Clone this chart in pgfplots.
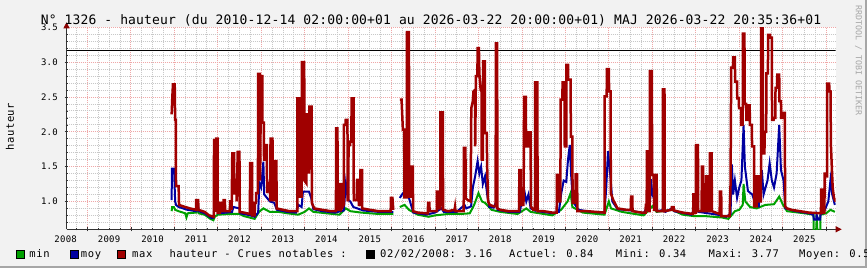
\documentclass[border=0pt]{standalone}
\usepackage{pgfplots}
\pgfplotsset{compat=1.18}
\usepackage{pgfplotstable}
\usepackage{fontspec}
\usetikzlibrary{arrows.meta}
\setmainfont{DejaVu Sans Mono}
\newfontfamily\titlefont[LetterSpace=1.2]{DejaVu Sans Mono}
\newfontfamily\legfont[LetterSpace=5.8]{DejaVu Sans Mono}
\newfontfamily\tickfont[LetterSpace=3]{DejaVu Sans Mono}
\newcommand\legf{\legfont\fontsize{10.5bp}{12bp}\selectfont}
\newcommand\tickf{\tickfont\fontsize{9bp}{10bp}\selectfont}
\definecolor{rrdback}{HTML}{F2F2F2}
\definecolor{rrdred}{HTML}{A00000}
\definecolor{rrdblue}{HTML}{0000A0}
\definecolor{rrdgreen}{HTML}{00A000}
\definecolor{mgrid}{HTML}{EFA8A8}
\definecolor{sgrid}{HTML}{C8C8C8}
\definecolor{rrdarrow}{HTML}{8A0000}

\pgfplotstableread{
x y
2010.94 2.25
2010.955 2.50
2010.97 2.68
2011.01 2.68
2011.02 2.17
2011.035 2.17
2011.04 1.22
2011.10 1.22
2011.11 0.95
2011.20 0.93
2011.36 0.90
2011.50 0.88
2011.505 1.02
2011.55 1.02
2011.555 0.88
2011.70 0.85
2011.80 0.80
2011.91 0.78
2011.915 1.88
2011.945 1.88
2011.95 0.85
2011.965 1.90
2011.995 1.90
2012.00 0.84
2012.05 0.84
2012.055 0.98
2012.08 0.98
2012.085 0.86
2012.13 0.86
2012.135 1.02
2012.165 1.02
2012.17 0.86
2012.28 0.86
2012.285 1.0
2012.31 1.0
2012.32 0.88
2012.335 1.69
2012.375 1.69
2012.38 1.1
2012.405 1.31
2012.43 1.31
2012.435 1.0
2012.46 1.71
2012.50 1.71
2012.505 0.85
2012.60 0.84
2012.74 0.82
2012.745 1.55
2012.79 1.55
2012.795 0.80
2012.85 0.80
2012.855 0.98
2012.88 0.98
2012.885 1.12
2012.925 1.12
2012.93 2.83
2012.97 2.83
2012.975 1.3
2012.995 2.80
2013.025 2.80
2013.03 2.13
2013.06 2.13
2013.065 1.6
2013.09 1.6
2013.095 1.81
2013.13 1.81
2013.135 1.12
2013.175 1.26
2013.20 1.26
2013.205 1.0
2013.215 1.9
2013.26 1.9
2013.265 1.02
2013.30 1.02
2013.305 1.58
2013.35 1.58
2013.355 0.90
2013.50 0.88
2013.65 0.86
2013.83 0.86
2013.835 2.48
2013.87 2.48
2013.875 1.07
2013.93 1.07
2013.935 3.0
2013.99 3.0
2013.995 1.3
2014.04 1.26
2014.045 2.25
2014.09 2.25
2014.095 1.4
2014.11 2.36
2014.16 2.36
2014.165 0.98
2014.22 0.90
2014.40 0.88
2014.60 0.86
2014.72 0.86
2014.725 2.05
2014.755 2.05
2014.76 0.88
2014.815 0.88
2014.82 1.25
2014.85 1.25
2014.855 0.90
2014.90 0.95
2014.905 2.10
2014.94 2.10
2014.945 2.17
2014.985 2.17
2014.99 1.02
2015.005 1.02
2015.01 1.81
2015.045 1.81
2015.05 1.86
2015.075 1.86
2015.08 2.48
2015.125 2.48
2015.13 1.02
2015.20 1.02
2015.205 1.31
2015.245 1.31
2015.25 0.95
2015.28 0.95
2015.285 1.45
2015.32 1.45
2015.325 0.90
2015.50 0.88
2015.70 0.86
2015.98 0.86
2015.985 1.05
2016.02 1.05
2016.04 0.88
nan nan
2016.19 2.46
2016.23 2.46
2016.26 2.03
2016.29 2.03
2016.295 1.06
2016.35 1.06
2016.355 3.43
2016.40 3.43
2016.405 1.07
2016.44 1.07
2016.445 1.5
2016.49 1.5
2016.495 0.86
2016.60 0.84
2016.80 0.83
2016.835 0.83
2016.84 0.98
2016.87 0.98
2016.875 0.86
2017.04 0.86
2017.045 1.14
2017.08 1.14
2017.085 0.90
2017.12 0.90
2017.125 2.28
2017.18 2.28
2017.185 0.88
2017.30 0.86
2017.45 0.88
2017.46 0.92
2017.47 0.86
2017.66 0.86
2017.665 1.77
2017.70 1.77
2017.705 1.05
2017.75 1.02
2017.82 1.0
2017.825 1.45
2017.835 2.34
2017.87 2.44
2017.885 2.58
2017.92 2.6
2017.925 1.79
2017.94 2.8
2017.975 2.8
2017.98 3.2
2018.01 3.2
2018.02 2.84
2018.05 2.6
2018.07 2.58
2018.075 1.6
2018.10 1.6
2018.105 3.01
2018.145 3.01
2018.15 1.98
2018.19 1.98
2018.20 1.5
2018.22 1.0
2018.26 0.95
2018.35 0.93
2018.395 0.93
2018.40 3.27
2018.43 3.27
2018.435 0.90
2018.50 0.88
2018.70 0.86
2018.935 0.86
2018.94 1.45
2018.97 1.45
2018.975 0.95
2019.035 0.95
2019.04 1.29
2019.05 2.5
2019.09 2.5
2019.095 1.79
2019.14 1.79
2019.145 1.99
2019.20 1.99
2019.205 0.93
2019.26 0.88
2019.30 0.88
2019.305 2.71
2019.355 2.71
2019.36 0.86
2019.50 0.86
2019.70 0.84
2019.80 0.84
2019.805 1.38
2019.85 1.38
2019.855 1.0
2019.885 1.0
2019.89 2.46
2019.93 2.46
2019.935 2.71
2019.98 2.71
2019.985 1.79
2020.02 1.79
2020.025 2.96
2020.06 2.96
2020.065 2.75
2020.12 2.75
2020.125 1.93
2020.16 1.93
2020.165 0.98
2020.23 0.98
2020.235 1.39
2020.27 1.39
2020.275 0.86
2020.50 0.86
2020.90 0.84
2020.905 2.51
2020.95 2.51
2020.955 2.9
2021.00 2.9
2021.005 2.58
2021.04 2.58
2021.045 1.12
2021.10 1.02
2021.20 0.90
2021.40 0.88
2021.505 0.88
2021.51 1.07
2021.54 1.07
2021.545 0.86
2021.76 0.84
2021.845 0.84
2021.85 0.95
2021.865 0.95
2021.87 0.86
2021.875 1.72
2021.91 1.72
2021.915 0.86
2021.94 0.86
2021.945 2.87
2021.99 2.87
2021.995 1.38
2022.03 1.38
2022.045 0.86
2022.06 1.38
2022.10 1.38
2022.105 0.86
2022.24 0.86
2022.245 2.61
2022.28 2.61
2022.285 0.86
2022.44 0.88
2022.45 0.92
2022.49 0.92
2022.50 0.87
2022.70 0.84
2022.94 0.82
2022.945 1.10
2022.975 1.10
2022.98 0.84
2023.00 0.84
2023.005 1.81
2023.05 1.81
2023.055 0.86
2023.135 0.86
2023.14 1.5
2023.17 1.5
2023.175 0.86
2023.235 0.86
2023.24 1.36
2023.27 1.36
2023.275 0.86
2023.32 0.86
2023.325 1.69
2023.365 1.69
2023.37 0.86
2023.55 0.82
2023.555 1.14
2023.585 1.14
2023.59 0.79
2023.78 0.79
2023.80 1.25
2023.815 2.92
2023.855 2.92
2023.86 3.07
2023.90 3.07
2023.905 2.72
2023.95 2.72
2023.955 2.48
2023.99 2.48
2023.995 2.34
2024.04 2.34
2024.045 2.10
2024.08 2.10
2024.085 3.41
2024.12 3.41
2024.125 2.4
2024.16 2.4
2024.165 2.17
2024.20 2.17
2024.205 2.38
2024.24 2.38
2024.245 2.10
2024.29 2.10
2024.295 1.79
2024.34 1.79
2024.345 0.93
2024.40 0.93
2024.405 1.36
2024.44 1.36
2024.445 1.0
2024.50 1.0
2024.505 3.5
2024.54 3.5
2024.545 1.69
2024.58 1.69
2024.585 2.0
2024.62 2.0
2024.625 2.84
2024.66 2.84
2024.665 3.39
2024.71 3.39
2024.715 3.35
2024.75 3.35
2024.755 2.17
2024.79 2.17
2024.795 2.2
2024.83 2.2
2024.835 2.63
2024.87 2.63
2024.875 2.82
2024.92 2.82
2024.925 2.44
2024.96 2.44
2024.965 2.2
2025.00 2.2
2025.005 2.27
2025.05 2.27
2025.055 0.93
2025.10 0.90
2025.20 0.88
2025.40 0.86
2025.60 0.84
2025.88 0.83
2025.885 1.17
2025.915 1.17
2025.92 0.84
2025.96 0.84
2025.965 1.40
2025.995 1.40
2026.0 1.36
2026.02 1.36
2026.025 2.69
2026.07 2.69
2026.075 2.58
2026.10 2.58
2026.11 1.8
2026.13 1.5
2026.15 1.2
2026.18 1.05
2026.22 1.0
}\redtab

\pgfplotstableread{
x y
2010.94 1.02
2010.945 1.47
2010.995 1.47
2011.02 1.0
2011.04 0.95
2011.10 0.92
2011.30 0.88
2011.50 0.86
2011.52 0.95
2011.55 0.93
2011.56 0.86
2011.70 0.83
2011.86 0.76
2011.91 0.77
2011.92 1.0
2011.99 1.02
2012.01 0.83
2012.20 0.84
2012.33 0.85
2012.36 0.92
2012.50 0.90
2012.52 0.83
2012.75 0.80
2012.85 0.78
2012.93 0.84
2012.96 1.26
2013.00 1.2
2013.05 1.57
2013.07 1.1
2013.20 1.0
2013.30 0.98
2013.36 0.88
2013.60 0.85
2013.80 0.84
2013.86 0.95
2013.93 0.92
2013.96 1.14
2014.10 1.14
2014.15 1.05
2014.20 0.89
2014.40 0.86
2014.70 0.84
2014.90 0.87
2014.95 1.26
2015.00 1.02
2015.05 1.0
2015.12 0.92
2015.35 0.87
2015.70 0.85
2016.04 0.85
nan nan
2016.19 1.05
2016.24 1.1
2016.36 1.19
2016.40 1.05
2016.50 0.84
2016.80 0.81
2017.00 0.84
2017.15 0.90
2017.20 0.85
2017.50 0.85
2017.68 0.95
2017.72 0.90
2017.83 0.93
2017.87 1.2
2017.92 1.35
2017.98 1.58
2018.02 1.40
2018.06 1.5
2018.10 1.25
2018.15 1.36
2018.20 1.1
2018.25 0.92
2018.35 0.91
2018.41 1.0
2018.44 0.88
2018.70 0.85
2018.95 0.85
2019.05 1.17
2019.10 1.0
2019.15 1.1
2019.20 0.90
2019.30 0.87
2019.33 0.95
2019.36 0.86
2019.70 0.83
2019.85 0.85
2019.90 1.1
2019.96 1.3
2020.02 1.28
2020.06 1.6
2020.10 1.81
2020.13 1.4
2020.17 1.0
2020.30 0.88
2020.60 0.85
2020.90 0.84
2020.94 1.2
2020.98 1.72
2021.03 1.4
2021.08 1.0
2021.20 0.89
2021.50 0.87
2021.80 0.83
2021.95 1.0
2021.97 1.32
2022.00 1.1
2022.07 1.0
2022.12 0.86
2022.26 0.88
2022.30 0.85
2022.45 0.90
2022.50 0.86
2022.90 0.81
2023.02 0.95
2023.06 0.85
2023.50 0.81
2023.70 0.78
2023.80 0.82
2023.83 1.53
2023.86 1.1
2023.90 1.3
2023.95 1.05
2024.00 1.2
2024.05 1.3
2024.10 2.1
2024.13 1.5
2024.20 1.15
2024.30 1.1
2024.38 0.95
2024.45 0.93
2024.52 1.45
2024.56 1.1
2024.65 1.3
2024.70 1.55
2024.75 1.3
2024.80 1.2
2024.86 1.4
2024.92 2.1
2024.96 1.45
2025.02 1.3
2025.06 0.90
2025.30 0.86
2025.60 0.83
2025.70 0.81
2025.72 0.74
2025.77 0.74
2025.78 0.81
2025.82 0.74
2025.86 0.74
2025.87 0.81
2025.95 0.85
2026.05 1.0
2026.10 1.31
2026.14 1.1
2026.20 0.95
}\bluetab

\pgfplotstableread{
x y
2010.94 0.86
2010.95 0.92
2010.99 0.92
2011.02 0.88
2011.10 0.86
2011.25 0.83
2011.28 0.77
2011.31 0.83
2011.50 0.84
2011.52 0.90
2011.56 0.83
2011.70 0.81
2011.83 0.75
2011.90 0.73
2011.93 0.78
2012.00 0.81
2012.30 0.82
2012.50 0.82
2012.60 0.79
2012.85 0.75
2012.95 0.85
2013.05 0.90
2013.20 0.85
2013.40 0.85
2013.60 0.83
2013.85 0.81
2014.00 0.85
2014.10 0.90
2014.20 0.85
2014.50 0.83
2014.80 0.81
2014.95 0.90
2015.05 0.86
2015.30 0.84
2015.70 0.82
2016.04 0.82
nan nan
2016.19 0.92
2016.30 0.95
2016.40 0.88
2016.60 0.81
2016.85 0.78
2017.00 0.80
2017.30 0.82
2017.60 0.82
2017.80 0.83
2017.90 0.95
2018.00 1.12
2018.08 1.0
2018.15 0.98
2018.30 0.88
2018.50 0.85
2018.90 0.82
2019.10 0.90
2019.20 0.85
2019.70 0.80
2019.90 0.88
2020.05 1.0
2020.12 1.12
2020.16 0.92
2020.40 0.84
2020.90 0.81
2021.00 1.0
2021.05 0.90
2021.30 0.85
2021.80 0.80
2022.00 0.93
2022.10 0.85
2022.45 0.88
2022.70 0.81
2022.95 0.79
2023.20 0.79
2023.60 0.77
2023.75 0.75
2023.82 0.80
2023.90 0.86
2024.00 0.88
2024.08 0.95
2024.10 1.25
2024.14 1.0
2024.25 0.92
2024.40 0.90
2024.60 0.95
2024.80 0.96
2024.92 1.07
2025.00 0.96
2025.10 0.86
2025.50 0.83
2025.71 0.81
2025.72 0.30
2025.77 0.30
2025.78 0.81
2025.82 0.30
2025.86 0.30
2025.87 0.81
2026.00 0.83
2026.10 0.88
2026.20 0.85
}\greentab

\begin{document}
\begin{tikzpicture}[x=1bp,y=1bp]
\path[use as bounding box] (0,0) rectangle (867,268);
\clip (0,0) rectangle (867,268);
\fill[rrdback] (0,0) rectangle (867,268);
\fill[gray!70] (865,0) rectangle (867,268);
\fill[gray!70] (0,0) rectangle (867,2);
\fill[white!90!gray] (0,2) rectangle (2,268);
\fill[white!90!gray] (0,266) rectangle (865,268);
\begin{axis}[
  at={(66.5bp,38.7bp)}, anchor=south west, scale only axis,
  width=769.2bp, height=202bp,
  xmin=2008.52, xmax=2026.22, ymin=0.6, ymax=3.5,
  unbounded coords=jump,
  axis lines=left,
  axis background/.style={fill=white},
  axis line style={draw=black!80, line width=0.8bp},
  x axis line style={-{Triangle[length=6bp,width=6bp,color=rrdarrow]}, shorten >=-6bp},
  y axis line style={-{Triangle[length=6bp,width=6bp,color=rrdarrow]}, shorten >=-5bp},
  xtick={2009,2010,2011,2012,2013,2014,2015,2016,2017,2018,2019,2020,2021,2022,2023,2024,2025,2026},
  xticklabels={2008,2009,2010,2011,2012,2013,2014,2015,2016,2017,2018,2019,2020,2021,2022,2023,2024,2025},
  minor xtick={2008.75,2009.25,2009.5,2009.75,2010.25,2010.5,2010.75,2011.25,2011.5,2011.75,2012.25,2012.5,2012.75,2013.25,2013.5,2013.75,2014.25,2014.5,2014.75,2015.25,2015.5,2015.75,2016.25,2016.5,2016.75,2017.25,2017.5,2017.75,2018.25,2018.5,2018.75,2019.25,2019.5,2019.75,2020.25,2020.5,2020.75,2021.25,2021.5,2021.75,2022.25,2022.5,2022.75,2023.25,2023.5,2023.75,2024.25,2024.5,2024.75,2025.25,2025.5,2025.75},
  ytick={1.0,1.5,2.0,2.5,3.0,3.5},
  minor ytick={0.7,0.8,0.9,1.1,1.2,1.3,1.4,1.6,1.7,1.8,1.9,2.1,2.2,2.3,2.4,2.6,2.7,2.8,2.9,3.1,3.2,3.3,3.4},
  grid=both,
  major grid style={mgrid, line width=0.8bp, dash pattern=on 1bp off 1bp},
  minor grid style={sgrid, line width=0.8bp, dash pattern=on 1bp off 1bp},
  major tick length=4bp, minor tick length=2bp, tick align=center,
  tick style={black!80, line width=0.6bp},
  xticklabel style={font=\tickf, anchor=north, inner sep=0pt, xshift=-21.73bp, yshift=-4.7bp},
  yticklabel style={font=\tickf, anchor=east, inner sep=0pt, xshift=-6.5bp,
    /pgf/number format/.cd, fixed, fixed zerofill, precision=1, assume math mode=true},
]
\addplot[black, line width=1bp] coordinates {(2008.52,3.16) (2026.22,3.16)};
\addplot[rrdgreen, line width=2bp] table {\greentab};
\addplot[rrdblue, line width=2bp] table {\bluetab};
\addplot[rrdred, line width=2.5bp] table {\redtab};
\end{axis}
\node[anchor=base west, inner sep=0pt] at (40.7,243.7) {\titlefont\fontsize{13bp}{15bp}\selectfont N° 1326 - hauteur (du 2010-12-14 02:00:00+01 au 2026-03-22 20:00:00+01) MAJ 2026-03-22 20:35:36+01};
\node[rotate=90, inner sep=0pt] at (10,141.3) {\legf hauteur};
\node[rotate=-90, anchor=west, inner sep=0pt, text=black!35] at (858.5,263) {\fontsize{8.3bp}{9bp}\selectfont RRDTOOL / TOBI OETIKER};
\draw[black, line width=0.6bp, fill=rrdgreen] (15.9,9.9) rectangle (24.1,17.9);
\draw[black, line width=0.6bp, fill=rrdblue] (70.2,9.9) rectangle (78.4,17.9);
\draw[black, line width=0.6bp, fill=rrdred] (117.5,9.9) rectangle (125.7,17.9);
\draw[black, line width=0.6bp, fill=black] (366.2,9.9) rectangle (374.4,17.9);
\node[anchor=base west, inner sep=0pt] at (29.3,10.5) {\legf min};
\node[anchor=base west, inner sep=0pt] at (80.7,10.5) {\legf moy};
\node[anchor=base west, inner sep=0pt] at (132,10.5) {\legf max};
\node[anchor=base west, inner sep=0pt] at (169.3,10.5) {\legf hauteur - Crues notables :};
\node[anchor=base west, inner sep=0pt] at (380,10.5) {\legf 02/02/2008: 3.16};
\node[anchor=base west, inner sep=0pt] at (509,10.5) {\legf Actuel: 0.84};
\node[anchor=base west, inner sep=0pt] at (615.7,10.5) {\legf Mini: 0.34};
\node[anchor=base west, inner sep=0pt] at (708.3,10.5) {\legf Maxi: 3.77};
\node[anchor=base west, inner sep=0pt] at (799,10.5) {\legf Moyen: 0.54};
\end{tikzpicture}
\end{document}
